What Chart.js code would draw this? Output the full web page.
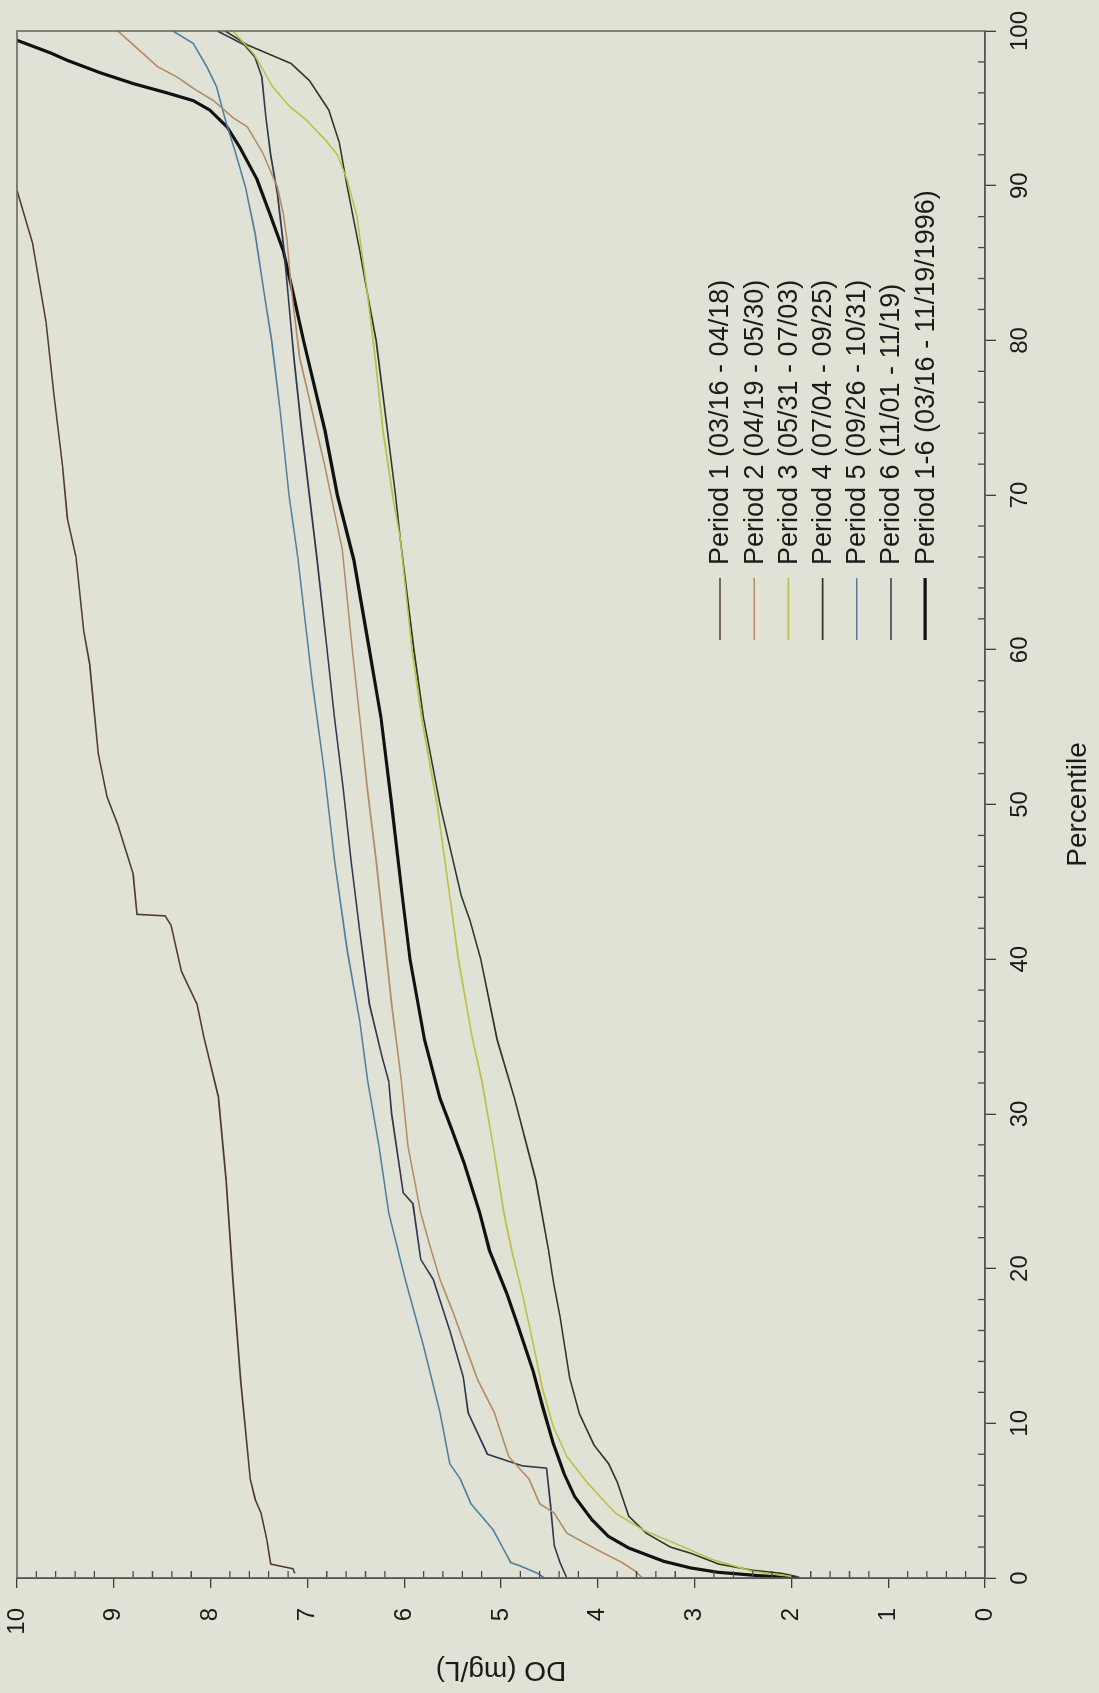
<!DOCTYPE html>
<html>
<head>
<meta charset="utf-8">
<title>DO percentiles</title>
<script src="https://cdn.jsdelivr.net/npm/chart.js@4.4.1/dist/chart.umd.min.js"></script>
<style>
    html, body { margin: 0; padding: 0; background: #e0e2d5; overflow: hidden; }
    body { width: 1099px; height: 1693px; position: relative; }
    /* chart is drawn upright, then turned a quarter to the left like the scan */
    #wrap {
        position: absolute; left: 0; top: 0;
        width: 1693px; height: 1099px;
        transform-origin: 0 0;
        transform: translateY(1693px) rotate(-90deg);
    }
</style>
</head>
<body>
<div id="wrap"><canvas id="chart-do" width="1693" height="1099"></canvas></div>
<script>
const seriesNames = [
    "Period 1 (03/16 - 04/18)",
    "Period 2 (04/19 - 05/30)",
    "Period 3 (05/31 - 07/03)",
    "Period 4 (07/04 - 09/25)",
    "Period 5 (09/26 - 10/31)",
    "Period 6 (11/01 - 11/19)",
    "Period 1-6 (03/16 - 11/19/1996)",
];

// percentile / DO (mg/L) pairs
const p1Pct = [0.3, 0.6, 0.9, 2.5, 4.2, 5.1, 6.4, 12.8, 19.3, 25.7, 31.1, 35, 37.1, 39.2, 42.2, 42.8, 42.9, 45.5, 47.1, 48.7, 50.5, 53.3, 59.1, 61.2, 66, 68.5, 71.9, 76.6, 81.2, 86.3, 89.7];
const p1DO  = [7.13, 7.15, 7.38, 7.42, 7.48, 7.54, 7.59, 7.69, 7.77, 7.84, 7.92, 8.07, 8.14, 8.30, 8.41, 8.47, 8.76, 8.80, 8.88, 8.96, 9.07, 9.16, 9.25, 9.31, 9.39, 9.48, 9.53, 9.62, 9.70, 9.84, 10.0];

const p2Pct = [0, 0.43, 1.0, 1.8, 2.9, 4.2, 4.8, 6.4, 7.85, 10.7, 12.8, 15, 17.1, 19.3, 21.4, 23.6, 27.9, 32.2, 37.1, 41.8, 46.4, 51, 55.6, 60.2, 66.5, 71.9, 75.4, 78.9, 83.5, 86.5, 88.2, 89.9, 92.1, 93.8, 94.4, 95.5, 96.3, 97, 97.7, 99, 100];
const p2DO  = [3.54, 3.61, 3.75, 4.0, 4.32, 4.45, 4.60, 4.71, 4.92, 5.07, 5.24, 5.37, 5.49, 5.63, 5.73, 5.83, 5.96, 6.03, 6.13, 6.21, 6.29, 6.38, 6.46, 6.54, 6.64, 6.82, 6.95, 7.08, 7.17, 7.21, 7.25, 7.31, 7.46, 7.62, 7.77, 7.97, 8.18, 8.34, 8.55, 8.78, 8.96];

const p3Pct = [0.1, 0.43, 1.2, 2.26, 3.1, 4.2, 6.1, 7.85, 9.8, 12.2, 15.2, 18.4, 21.2, 23.6, 27.9, 32.2, 35, 40, 44.1, 50, 55.6, 60, 67.2, 70, 74.2, 78.9, 83.5, 88.1, 90.4, 92, 93, 94.3, 95.1, 96.4, 98.5, 100];
const p3DO  = [2.0, 2.40, 2.82, 3.21, 3.53, 3.82, 4.10, 4.32, 4.46, 4.57, 4.67, 4.78, 4.89, 4.97, 5.08, 5.20, 5.30, 5.44, 5.53, 5.66, 5.82, 5.92, 6.04, 6.12, 6.22, 6.30, 6.39, 6.49, 6.59, 6.69, 6.82, 7.02, 7.18, 7.36, 7.55, 7.77];

const p4Pct = [0.1, 0.3, 0.5, 0.9, 1.6, 2.0, 2.9, 4.0, 6.2, 7.4, 8.6, 10.6, 12.9, 16.9, 19.2, 21.2, 25.7, 31, 34.8, 40, 42.5, 44.1, 50, 55.6, 60, 67.2, 70, 80, 83, 85.8, 90, 92.8, 94.9, 96.8, 97.9, 99.1, 100];
const p4DO  = [1.95, 2.1, 2.4, 2.75, 3.04, 3.25, 3.50, 3.68, 3.80, 3.89, 4.04, 4.19, 4.29, 4.39, 4.46, 4.51, 4.64, 4.86, 5.04, 5.21, 5.32, 5.41, 5.63, 5.80, 5.90, 6.04, 6.09, 6.29, 6.38, 6.46, 6.59, 6.67, 6.78, 6.98, 7.17, 7.62, 7.85];

const p5Pct = [0, 0.3, 0.8, 1.0, 1.7, 3.1, 4.8, 6.4, 7.4, 10.7, 15, 19.3, 23.6, 27.9, 32.2, 36, 40.6, 46.4, 51.9, 57.9, 66, 70, 75.4, 80, 82.8, 86.9, 89.9, 92.3, 94.1, 96.4, 97.7, 99.2, 100];
const p5DO  = [4.55, 4.62, 4.81, 4.90, 4.96, 5.08, 5.31, 5.42, 5.53, 5.63, 5.80, 5.99, 6.16, 6.26, 6.38, 6.46, 6.59, 6.72, 6.82, 6.95, 7.10, 7.19, 7.28, 7.37, 7.44, 7.54, 7.64, 7.75, 7.84, 7.94, 8.04, 8.18, 8.39];

const p6Pct = [0, 1.0, 2.1, 4.8, 7.1, 7.25, 8.0, 10.7, 13, 16, 19.3, 20.6, 24.2, 24.9, 30, 32.1, 33.7, 37.1, 41.8, 46.4, 51, 55.6, 60.2, 65.8, 70, 74.2, 78.9, 82.3, 85.8, 89.5, 92, 94.5, 97, 98.3, 99.1, 100];
const p6DO  = [4.32, 4.39, 4.45, 4.49, 4.53, 4.78, 5.14, 5.34, 5.39, 5.53, 5.70, 5.83, 5.91, 6.01, 6.13, 6.16, 6.23, 6.36, 6.46, 6.55, 6.63, 6.72, 6.80, 6.90, 6.98, 7.06, 7.14, 7.19, 7.24, 7.31, 7.38, 7.43, 7.47, 7.54, 7.65, 7.93];

const allPct = [0, 0.15, 0.37, 0.65, 1.08, 1.94, 2.69, 3.76, 5.27, 6.77, 8.7, 11.08, 13.4, 16.2, 18.4, 21.2, 23.6, 26.8, 29, 31, 34.8, 40, 44.1, 50, 55.6, 60, 65.8, 70, 74.2, 80, 83.1, 85.8, 88.2, 90.4, 92.5, 93.8, 94.9, 95.5, 96, 96.6, 97.3, 98.1, 98.6, 99.4];
const allDO  = [1.92, 2.33, 2.76, 3.04, 3.32, 3.68, 3.89, 4.06, 4.24, 4.35, 4.46, 4.57, 4.67, 4.82, 4.94, 5.12, 5.22, 5.38, 5.51, 5.63, 5.79, 5.94, 6.02, 6.13, 6.24, 6.36, 6.52, 6.69, 6.82, 7.04, 7.15, 7.25, 7.39, 7.52, 7.70, 7.83, 8.01, 8.18, 8.45, 8.80, 9.14, 9.48, 9.66, 10.0];

const pctTicks = [0, 10, 20, 30, 40, 50, 60, 70, 80, 90, 100];
const doTicks = [0, 1, 2, 3, 4, 5, 6, 7, 8, 9, 10];

const pairs = (px, py) => px.map((p, i) => ({ x: p, y: py[i] }));

const lineColors = ["#4f3b2e", "#b38b66", "#bcc043", "#2c3629", "#4f7f9e", "#2e3650", "#111111"];
const lineWidths = [1.6, 1.6, 1.6, 1.6, 1.6, 1.6, 3.2];
const seriesData = [
    pairs(p1Pct, p1DO), pairs(p2Pct, p2DO), pairs(p3Pct, p3DO), pairs(p4Pct, p4DO),
    pairs(p5Pct, p5DO), pairs(p6Pct, p6DO), pairs(allPct, allDO),
];

const fontFam = '"Liberation Sans", Arial, sans-serif';

// small inward ticks + frame round the plot
const minorTicks = {
    id: "minorTicks",
    afterDraw(chart) {
        const { ctx, chartArea: a, scales: { x, y } } = chart;
        ctx.save();
        ctx.strokeStyle = "#4d4450";
        ctx.lineWidth = 1.3;
        ctx.beginPath();
        for (let v = 0; v <= 100; v += 2) {
            if (v % 10 === 0) continue;
            const px = x.getPixelForValue(v);
            ctx.moveTo(px, a.bottom);
            ctx.lineTo(px, a.bottom - 7);
        }
        for (let i = 0; i <= 50; i++) {
            if (i % 5 === 0) continue;
            const py = y.getPixelForValue(i / 5);
            ctx.moveTo(a.left, py);
            ctx.lineTo(a.left + 7, py);
        }
        ctx.stroke();
        ctx.strokeStyle = "#5f605c";
        ctx.lineWidth = 1.5;
        ctx.strokeRect(a.left, a.top, a.right - a.left, a.bottom - a.top);
        ctx.restore();
    },
};

// legend sits inside the plot, one entry per row
const legendBox = {
    id: "legendBox",
    afterDraw(chart) {
        const ctx = chart.ctx;
        ctx.save();
        ctx.font = "27px " + fontFam;
        ctx.textBaseline = "middle";
        ctx.textAlign = "left";
        ctx.fillStyle = "#1b1b1b";
        chart.data.datasets.forEach((ds, i) => {
            const yy = 720 + i * 34.2;
            ctx.strokeStyle = ds.borderColor;
            ctx.lineWidth = ds.borderWidth;
            ctx.beginPath();
            ctx.moveTo(1053, yy);
            ctx.lineTo(1115, yy);
            ctx.stroke();
            ctx.fillText(ds.label, 1128, yy + 1);
        });
        ctx.restore();
    },
};

const canvasDO = document.getElementById("chart-do");

const configDO = {
    type: "line",
    data: {
        datasets: seriesNames.map((name, i) => ({
            label: name,
            data: seriesData[i],
            borderColor: lineColors[i],
            borderWidth: lineWidths[i],
            pointRadius: 0,
            tension: 0,
            fill: false,
        })),
    },
    options: {
        responsive: false,
        animation: false,
        devicePixelRatio: 1,
        layout: { padding: { left: 0, right: 31, top: 17, bottom: 0 } },
        plugins: {
            legend: { display: false },
            tooltip: { enabled: false },
        },
        scales: {
            x: {
                type: "linear",
                position: "bottom",
                min: 0,
                max: 100,
                afterFit: (s) => { s.height = 114; },
                afterBuildTicks: (s) => { s.ticks = pctTicks.map((v) => ({ value: v })); },
                ticks: { font: { size: 24, family: fontFam }, color: "#1b1b1b", padding: 10, maxRotation: 0 },
                grid: { drawOnChartArea: false, tickLength: 11, color: "#3e3e3e", lineWidth: 1.3 },
                border: { display: true, color: "#3e3e3e", width: 1.5 },
                title: { display: true, text: "Percentile", color: "#1b1b1b", font: { size: 28, family: fontFam }, padding: { top: 0, bottom: 4 } },
            },
            y: {
                type: "linear",
                position: "left",
                min: 0,
                max: 10,
                // fixed width; drop the extra end padding so the plot keeps its full height
                afterFit: (s) => { s.width = 115; s.paddingTop = 8; s.paddingBottom = 8; },
                afterBuildTicks: (s) => { s.ticks = doTicks.map((v) => ({ value: v })); },
                ticks: { font: { size: 24, family: fontFam }, color: "#1b1b1b", padding: 20 },
                grid: { drawOnChartArea: false, tickLength: 10, color: "#3e3e3e", lineWidth: 1.3 },
                border: { display: true, color: "#3e3e3e", width: 1.5 },
                title: { display: true, text: "DO (mg/L)", color: "#1b1b1b", font: { size: 28, family: fontFam }, padding: { top: 6, bottom: 0 } },
            },
        },
    },
    plugins: [minorTicks, legendBox],
};

new Chart(canvasDO, configDO);
</script>
</body>
</html>
